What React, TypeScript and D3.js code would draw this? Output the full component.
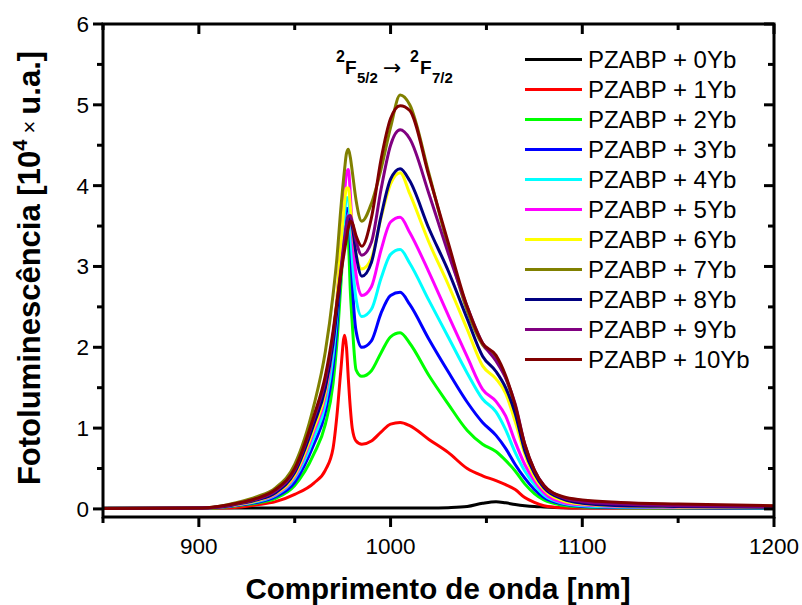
import React from 'react';
import * as d3 from 'd3';

const wavelengths = [850, 900, 910, 920, 930, 940, 950, 960, 966, 970, 972, 974, 976, 977, 978, 979, 980, 982, 985, 990, 995, 1000, 1005, 1010, 1020, 1030, 1040, 1048, 1055, 1060, 1065, 1070, 1075, 1080, 1090, 1100, 1120, 1150, 1200];

const seriesNames = ['PZABP + 0Yb', 'PZABP + 1Yb', 'PZABP + 2Yb', 'PZABP + 3Yb', 'PZABP + 4Yb', 'PZABP + 5Yb', 'PZABP + 6Yb', 'PZABP + 7Yb', 'PZABP + 8Yb', 'PZABP + 9Yb', 'PZABP + 10Yb'];
const seriesColors = ['#000000', '#ff0000', '#00ff00', '#0000ff', '#00ffff', '#ff00ff', '#ffff00', '#808000', '#000080', '#800080', '#800000'];

const yb0 = [0.01, 0.01, 0.01, 0.01, 0.01, 0.01, 0.01, 0.01, 0.01, 0.01, 0.01, 0.01, 0.01, 0.01, 0.01, 0.01, 0.01, 0.01, 0.01, 0.01, 0.01, 0.01, 0.01, 0.01, 0.01, 0.015, 0.03, 0.07, 0.09, 0.075, 0.055, 0.04, 0.03, 0.025, 0.015, 0.01, 0.01, 0.01, 0.01];
const yb1 = [0.005, 0.005, 0.01, 0.02, 0.05, 0.09, 0.18, 0.32, 0.48, 0.75, 1.15, 1.7, 2.15, 2.0, 1.6, 1.25, 1.0, 0.84, 0.8, 0.84, 0.95, 1.05, 1.07, 1.03, 0.86, 0.7, 0.5, 0.41, 0.35, 0.3, 0.24, 0.14, 0.08, 0.04, 0.015, 0.01, 0.01, 0.01, 0.01];
const yb2 = [0.005, 0.01, 0.015, 0.04, 0.07, 0.13, 0.29, 0.68, 1.05, 1.55, 2.05, 2.75, 3.45, 3.6, 3.35, 2.7, 2.3, 1.72, 1.64, 1.71, 1.93, 2.13, 2.18, 2.05, 1.65, 1.3, 0.97, 0.8, 0.71, 0.6, 0.47, 0.31, 0.19, 0.11, 0.045, 0.025, 0.015, 0.01, 0.01];
const yb3 = [0.005, 0.01, 0.02, 0.045, 0.08, 0.15, 0.33, 0.8, 1.2, 1.75, 2.25, 2.95, 3.55, 3.72, 3.7, 3.3, 2.8, 2.2, 2.0, 2.08, 2.42, 2.64, 2.68, 2.53, 2.1, 1.7, 1.32, 1.07, 0.91, 0.75, 0.55, 0.38, 0.24, 0.14, 0.06, 0.03, 0.02, 0.015, 0.01];
const yb4 = [0.005, 0.01, 0.02, 0.05, 0.09, 0.17, 0.38, 0.88, 1.3, 1.9, 2.4, 3.1, 3.65, 3.85, 3.85, 3.5, 3.1, 2.6, 2.38, 2.47, 2.85, 3.15, 3.21, 3.04, 2.58, 2.13, 1.68, 1.36, 1.2, 0.98, 0.7, 0.47, 0.3, 0.17, 0.07, 0.04, 0.025, 0.02, 0.015];
const yb5 = [0.005, 0.01, 0.02, 0.05, 0.1, 0.18, 0.4, 0.96, 1.4, 2.05, 2.55, 3.25, 3.9, 4.15, 4.2, 3.9, 3.45, 2.9, 2.64, 2.75, 3.2, 3.55, 3.61, 3.42, 2.93, 2.4, 1.88, 1.48, 1.33, 1.15, 0.83, 0.55, 0.35, 0.2, 0.08, 0.05, 0.03, 0.02, 0.02];
const yb6 = [0.005, 0.01, 0.02, 0.055, 0.1, 0.19, 0.42, 1.0, 1.45, 2.1, 2.6, 3.25, 3.8, 3.97, 3.97, 3.75, 3.5, 3.15, 2.97, 3.1, 3.6, 4.02, 4.16, 3.9, 3.3, 2.78, 2.22, 1.77, 1.61, 1.43, 1.08, 0.68, 0.4, 0.24, 0.1, 0.06, 0.035, 0.025, 0.02];
const yb7 = [0.005, 0.01, 0.03, 0.08, 0.15, 0.26, 0.55, 1.28, 1.95, 2.65, 3.1, 3.7, 4.2, 4.4, 4.45, 4.35, 4.18, 3.82, 3.56, 3.78, 4.2, 4.72, 5.12, 5.0, 4.15, 3.25, 2.45, 2.03, 1.87, 1.63, 1.25, 0.78, 0.47, 0.28, 0.14, 0.1, 0.07, 0.05, 0.035];
const yb8 = [0.005, 0.01, 0.02, 0.06, 0.11, 0.2, 0.45, 1.05, 1.5, 2.05, 2.45, 2.9, 3.3, 3.48, 3.58, 3.6, 3.5, 3.15, 2.88, 3.05, 3.62, 4.08, 4.21, 4.06, 3.47, 2.95, 2.35, 1.89, 1.7, 1.5, 1.18, 0.72, 0.44, 0.26, 0.12, 0.07, 0.04, 0.03, 0.02];
const yb9 = [0.005, 0.01, 0.025, 0.065, 0.12, 0.22, 0.48, 1.12, 1.6, 2.15, 2.55, 2.95, 3.35, 3.52, 3.62, 3.63, 3.55, 3.32, 3.14, 3.3, 3.95, 4.5, 4.69, 4.58, 3.9, 3.17, 2.5, 2.05, 1.83, 1.62, 1.3, 0.8, 0.48, 0.29, 0.14, 0.09, 0.06, 0.04, 0.03];
const yb10 = [0.005, 0.01, 0.03, 0.07, 0.13, 0.24, 0.5, 1.15, 1.65, 2.2, 2.55, 2.9, 3.2, 3.35, 3.48, 3.56, 3.54, 3.38, 3.25, 3.6, 4.32, 4.83, 4.99, 4.93, 4.12, 3.3, 2.5, 2.05, 1.9, 1.65, 1.28, 0.8, 0.48, 0.29, 0.15, 0.11, 0.08, 0.06, 0.04];

const seriesValues = [yb0, yb1, yb2, yb3, yb4, yb5, yb6, yb7, yb8, yb9, yb10];

const xMajorTicks = [900, 1000, 1100, 1200];
const xMinorTicks = [850, 950, 1050, 1150];
const yMajorTicks = [0, 1, 2, 3, 4, 5, 6];
const yMinorTicks = [0.5, 1.5, 2.5, 3.5, 4.5, 5.5];

const FONT = '"Liberation Sans", Arial, Helvetica, sans-serif';

export default function App() {
  const W = 802;
  const H = 605;
  const left = 103;
  const right = 774;
  const top = 24;
  const bottom = 517;

  const x = d3.scaleLinear().domain([850, 1200]).range([left, right]);
  const y = d3.scaleLinear().domain([-0.1, 6]).range([bottom, top]);

  const line = d3
    .line<number>()
    .x((_, i) => x(wavelengths[i]))
    .y((d) => y(d))
    .curve(d3.curveMonotoneX);

  const axisW = 3;
  const major = 10;
  const minor = 6;

  return (
    <svg
      width={W}
      height={H}
      viewBox={`0 0 ${W} ${H}`}
      style={{ position: 'absolute', left: 0, top: 0, background: '#fff' }}
      fontFamily={FONT}
    >
      <rect x={0} y={0} width={W} height={H} fill="#fff" />
      <defs>
        <clipPath id="plotclip">
          <rect x={left} y={top} width={right - left} height={bottom - top} />
        </clipPath>
      </defs>

      <g clipPath="url(#plotclip)">
        {seriesValues.map((vals, k) => (
          <path
            key={k}
            d={line(vals) || ''}
            fill="none"
            stroke={seriesColors[k]}
            strokeWidth={3}
            strokeLinejoin="round"
            strokeLinecap="round"
          />
        ))}
      </g>

      {/* frame */}
      <rect x={left} y={top} width={right - left} height={bottom - top} fill="none" stroke="#000" strokeWidth={axisW} />

      {/* bottom ticks (outward) & top ticks (inward) */}
      {xMajorTicks.map((t) => (
        <g key={'xM' + t}>
          <line x1={x(t)} x2={x(t)} y1={bottom} y2={bottom + major} stroke="#000" strokeWidth={axisW} />
          <line x1={x(t)} x2={x(t)} y1={top} y2={top + major} stroke="#000" strokeWidth={axisW} />
          <text x={x(t)} y={554} textAnchor="middle" fontSize={22.5} fill="#000">
            {t}
          </text>
        </g>
      ))}
      {xMinorTicks.map((t) => (
        <g key={'xm' + t}>
          <line x1={x(t)} x2={x(t)} y1={bottom} y2={bottom + minor} stroke="#000" strokeWidth={axisW} />
          <line x1={x(t)} x2={x(t)} y1={top} y2={top + minor} stroke="#000" strokeWidth={axisW} />
        </g>
      ))}

      {/* left ticks (outward) & right ticks (inward) */}
      {yMajorTicks.map((t) => (
        <g key={'yM' + t}>
          <line x1={left - major} x2={left} y1={y(t)} y2={y(t)} stroke="#000" strokeWidth={axisW} />
          <line x1={right - major} x2={right} y1={y(t)} y2={y(t)} stroke="#000" strokeWidth={axisW} />
          <text x={89} y={y(t) + 8} textAnchor="end" fontSize={22.5} fill="#000">
            {t}
          </text>
        </g>
      ))}
      {yMinorTicks.map((t) => (
        <g key={'ym' + t}>
          <line x1={left - minor} x2={left} y1={y(t)} y2={y(t)} stroke="#000" strokeWidth={axisW} />
          <line x1={right - minor} x2={right} y1={y(t)} y2={y(t)} stroke="#000" strokeWidth={axisW} />
        </g>
      ))}

      {/* axis titles */}
      <text x={438} y={599} textAnchor="middle" fontSize={29.5} fontWeight="bold" fill="#000">
        Comprimento de onda [nm]
      </text>
      <text
        x={40}
        y={268}
        transform="rotate(-90, 40, 268)"
        textAnchor="middle"
        fontSize={31}
        fontWeight="bold"
        fill="#000"
      >
        Fotoluminescência [10
        <tspan fontSize={20} dy={-13}>4</tspan>
        <tspan fontSize={22} fontWeight="normal" dy={10}> × </tspan>
        <tspan dy={3}>u.a.]</tspan>
      </text>

      {/* transition annotation */}
      <g fontWeight="bold" fill="#000">
        <text x={336} y={62} fontSize={16}>2</text>
        <text x={345} y={74} fontSize={19}>F</text>
        <text x={357} y={83} fontSize={15}>5/2</text>
        <text x={383} y={75} fontSize={22} fontWeight="normal" fontFamily='"DejaVu Sans", sans-serif'>→</text>
        <text x={410} y={62} fontSize={16}>2</text>
        <text x={420} y={74} fontSize={19}>F</text>
        <text x={432} y={83} fontSize={15}>7/2</text>
      </g>

      {/* legend */}
      {seriesNames.map((name, k) => {
        const ly = 59.5 + k * 30;
        return (
          <g key={'lg' + k}>
            <line x1={525} x2={582} y1={ly} y2={ly} stroke={seriesColors[k]} strokeWidth={3} />
            <text x={588} y={ly + 8} fontSize={24} fill="#000">
              {name}
            </text>
          </g>
        );
      })}
    </svg>
  );
}
